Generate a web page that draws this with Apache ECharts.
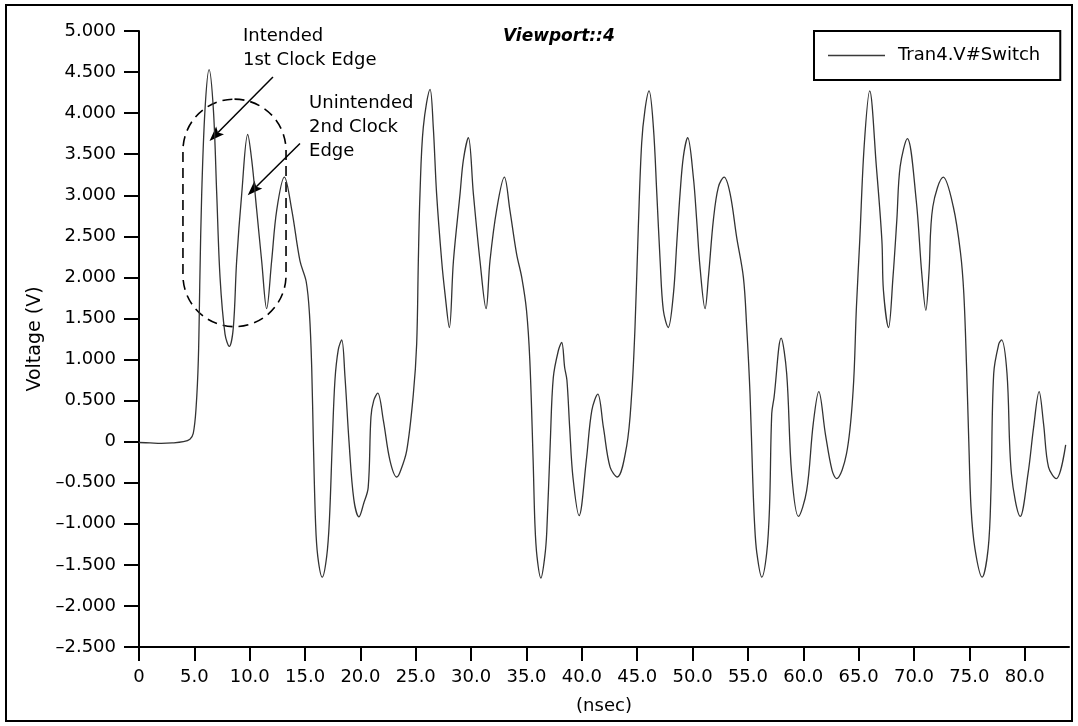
<!DOCTYPE html>
<html>
<head>
<meta charset="utf-8">
<script src="https://cdn.jsdelivr.net/npm/echarts@6/dist/echarts.min.js"></script>
<style>
html,body{margin:0;padding:0;background:#fff;}
#chart{width:1078px;height:726px;}
</style>
</head>
<body>
<div id="chart"></div>
<script>
// ---- Data ----
const seriesName = 'Tran4.V#Switch';
const chartTitle = 'Viewport::4';
const xAxisName = '(nsec)';
const yAxisName = 'Voltage (V)';
const xTicks = [0, 5, 10, 15, 20, 25, 30, 35, 40, 45, 50, 55, 60, 65, 70, 75, 80];
const yTicks = [-2.5, -2, -1.5, -1, -0.5, 0, 0.5, 1, 1.5, 2, 2.5, 3, 3.5, 4, 4.5, 5];

const timeNs = [
  0, 1, 2, 3, 4, 4.6, 4.9, 5.15, 5.36, 5.5, 5.66, 5.96, 6.33, 6.72, 7.02, 7.32, 7.77, 8.16,
  8.52, 8.82, 9.28, 9.82, 10.18, 10.63, 11.08, 11.53, 11.98, 12.44, 13.13, 13.8, 14.54, 15.1,
  15.4, 15.6, 15.75, 15.95, 16.15, 16.55, 16.95, 17.2, 17.46, 17.7, 18.0, 18.31, 18.6, 18.97,
  19.4, 19.87, 20.3, 20.7, 20.95, 21.2, 21.56, 22.07, 22.67, 23.28, 23.58, 24.18, 24.78, 25.08,
  25.23, 25.38, 25.68, 26.29,
  26.58, 26.88, 27.34, 27.64, 28.03, 28.4, 29.0, 29.3, 29.75, 30.2, 30.8, 31.35, 31.7, 32.3,
  33.0, 33.5, 34.1, 34.57, 35.0, 35.3, 35.6, 35.76, 35.95, 36.3, 36.65, 36.83, 37.15, 37.42,
  37.88, 38.18, 38.45, 38.65, 38.9, 39.2, 39.75, 40.4, 40.9, 41.44, 41.95, 42.55, 43.2, 44.05,
  44.5, 44.8, 45.1, 45.4, 45.7, 46.07,
  46.46, 46.77, 47.07, 47.36, 47.8, 48.27, 48.57, 48.87, 49.17, 49.56, 50.07, 50.37, 50.67,
  51.13, 51.43, 51.88, 52.33, 52.85, 53.39, 53.98, 54.59, 54.89, 55.19, 55.43, 55.6, 55.8,
  56.25, 56.7, 56.95, 57.15, 57.36, 58.0, 58.5, 58.95, 59.56, 60.3, 60.9, 61.4, 62.0, 62.6,
  63.0, 63.9, 64.5, 64.8, 65.1, 65.5, 66.0,
  66.6, 67.1, 67.24, 67.7, 68.1, 68.45, 68.75, 69.4, 70.2, 70.7, 71.07, 71.35, 71.7, 72.65,
  73.55, 74.2, 74.5, 74.75, 74.95, 75.15, 75.5, 76.15, 76.7, 76.95, 77.2, 77.66, 77.9, 78.4,
  78.8, 79.6, 80.3, 80.8, 81.3, 81.7, 82.15, 82.85, 83.7
];
const voltage = [
  -0.01, -0.015, -0.02, -0.015, 0.0, 0.03, 0.1, 0.4, 1.0, 2.0, 3.0, 4.04, 4.53, 4.04, 3.02, 2.0, 1.31, 1.16,
  1.39, 2.2, 3.02, 3.74, 3.43, 2.82, 2.2, 1.62, 2.2, 2.82, 3.22, 2.82, 2.2, 1.95,
  1.55, 0.9, 0.0, -1.0, -1.4, -1.65, -1.4, -0.95, 0.0, 0.75, 1.12, 1.24, 0.8, 0.0,
  -0.7, -0.915, -0.75, -0.56, 0.3, 0.5, 0.59, 0.26, -0.23, -0.43, -0.37, -0.11, 0.58, 1.19,
  2.2, 3.02, 3.83, 4.29,
  3.83, 3.02, 2.2, 1.8, 1.39, 2.2, 3.02, 3.43, 3.70, 3.02, 2.2, 1.62, 2.2, 2.82,
  3.22, 2.82, 2.29, 2.0, 1.6, 0.99, -0.23, -1.0, -1.4, -1.66, -1.4, -1.1, 0.0, 0.78,
  1.11, 1.21, 0.9, 0.75, 0.17, -0.44, -0.9, -0.23, 0.38, 0.58, 0.17, -0.31, -0.43, -0.05,
  0.58, 1.39, 2.61, 3.63, 4.04, 4.27,
  3.83, 3.02, 2.2, 1.6, 1.39, 1.8, 2.41, 3.02, 3.47, 3.70, 3.22, 2.7, 2.13,
  1.62, 2.0, 2.7, 3.1, 3.22, 3.02, 2.49, 2.0, 1.39, 0.58, -0.44, -1.0, -1.35,
  -1.65, -1.35, -0.8, 0.34, 0.54, 1.26, 0.83, -0.39, -0.91, -0.6, 0.22, 0.61, 0.09, -0.35,
  -0.45, -0.15, 0.62, 1.64, 2.45, 3.6, 4.27,
  3.35, 2.45, 1.84, 1.39, 2.0, 2.7, 3.35, 3.69, 2.94, 2.05, 1.6, 2.05, 2.86, 3.22,
  2.86, 2.3, 1.8, 0.9, 0.0, -0.8, -1.3, -1.65, -1.3, -0.6, 0.83, 1.19, 1.24, 0.83,
  -0.39, -0.91, -0.39, 0.17, 0.61, 0.22, -0.31, -0.45, -0.04
];

// annotation anchors in data space [nsec, V]
const note1Text = 'Intended\n1st Clock Edge';
const note2Text = 'Unintended\n2nd Clock\nEdge';
const note1Pos = [9.39, 5.085];
const note2Pos = [15.36, 4.265];
const arrow1 = [[12.1, 4.44], [6.37, 3.66]];
const arrow2 = [[14.54, 3.63], [9.82, 3.0]];
const regionBox = [[3.97, 4.17], [13.28, 1.40]];

// ---- Chart ----
const FONT = 'DejaVu Sans';
const chart = echarts.init(document.getElementById('chart'), null, {renderer: 'canvas'});
const fmtY = v => {
  if (Math.abs(v) < 1e-9) return '0';
  return (v < 0 ? '\u2013' : '') + Math.abs(v).toFixed(3);
};
const fmtX = v => (Math.abs(v) < 1e-9 ? '0' : v.toFixed(1));

chart.setOption({
  animation: false,
  backgroundColor: '#fff',
  title: {
    text: chartTitle,
    left: 503, top: 28, padding: 0,
    textStyle: {fontFamily: FONT, fontSize: 17, fontWeight: 'bold', fontStyle: 'italic', color: '#000'}
  },
  legend: {
    data: [{name: seriesName, icon: 'rect'}],
    left: 814, top: 31,
    padding: [14, 20, 14, 14],
    itemWidth: 57, itemHeight: 1.6,
    itemStyle: {color: '#3a3a3a'},
    borderColor: '#000', borderWidth: 2,
    textStyle: {fontFamily: FONT, fontSize: 18, color: '#000', padding: [0, 0, 0, 8], lineHeight: 21}
  },
  grid: {left: 139, right: 9, top: 31, bottom: 79, containLabel: false},
  xAxis: {
    type: 'value', min: 0, max: 84, interval: 5,
    name: xAxisName, nameLocation: 'middle', nameGap: 50,
    nameTextStyle: {fontFamily: FONT, fontSize: 18, color: '#000'},
    axisLine: {show: true, onZero: false, lineStyle: {color: '#000', width: 2}},
    axisTick: {show: true, length: 14, lineStyle: {color: '#000', width: 2}, customValues: xTicks},
    axisLabel: {fontFamily: FONT, fontSize: 18, color: '#000', margin: 21, formatter: fmtX, customValues: xTicks},
    splitLine: {show: false}
  },
  yAxis: {
    type: 'value', min: yTicks[0], max: yTicks[yTicks.length - 1], interval: 0.5,
    name: yAxisName, nameLocation: 'middle', nameGap: 89,
    nameTextStyle: {fontFamily: FONT, fontSize: 19, color: '#000'},
    axisLine: {show: true, onZero: false, lineStyle: {color: '#000', width: 2}},
    axisTick: {show: true, length: 15, lineStyle: {color: '#000', width: 2}},
    axisLabel: {fontFamily: FONT, fontSize: 18, color: '#000', margin: 23, formatter: fmtY},
    splitLine: {show: false}
  },
  series: [{
    name: seriesName,
    type: 'line',
    data: timeNs.map((t, i) => [t, voltage[i]]),
    symbol: 'none', showSymbol: false,
    smooth: 0.35,
    lineStyle: {color: '#333', width: 1.3},
    itemStyle: {color: '#333'}
  }]
});

function px(p) { return chart.convertToPixel({gridIndex: 0}, p); }
function arrowGraphics(a) {
  const s = px(a[0]), e = px(a[1]);
  const dx = e[0] - s[0], dy = e[1] - s[1];
  const L = Math.hypot(dx, dy), ux = dx / L, uy = dy / L;
  const nx = -uy, ny = ux, hl = 15, hw = 5.5;
  const bx = e[0] - ux * hl, by = e[1] - uy * hl;
  return [
    {type: 'line', shape: {x1: s[0], y1: s[1], x2: bx + ux * 3, y2: by + uy * 3},
     style: {stroke: '#000', lineWidth: 1.5}, silent: true},
    {type: 'polygon', shape: {points: [[e[0], e[1]], [bx + nx * hw, by + ny * hw], [bx + ux * 3, by + uy * 3], [bx - nx * hw, by - ny * hw]]},
     style: {fill: '#000'}, silent: true}
  ];
}
const b0 = px(regionBox[0]), b1 = px(regionBox[1]);
const n1 = px(note1Pos), n2 = px(note2Pos);
const bw = b1[0] - b0[0], bh = b1[1] - b0[1];
chart.setOption({
  graphic: [
    {type: 'rect', shape: {x: 6, y: 5, width: 1066, height: 716},
     style: {fill: 'none', stroke: '#000', lineWidth: 2}, silent: true, z: 100},
    {type: 'rect', shape: {x: b0[0], y: b0[1], width: bw, height: bh, r: bw / 2},
     style: {fill: 'none', stroke: '#000', lineWidth: 1.6, lineDash: [10, 6]}, silent: true},
    ...arrowGraphics(arrow1),
    ...arrowGraphics(arrow2),
    {type: 'text', x: n1[0], y: n1[1],
     style: {text: note1Text, font: '18px "DejaVu Sans"', fill: '#000', lineHeight: 24, verticalAlign: 'top', align: 'left'}, silent: true},
    {type: 'text', x: n2[0], y: n2[1],
     style: {text: note2Text, font: '18px "DejaVu Sans"', fill: '#000', lineHeight: 24, verticalAlign: 'top', align: 'left'}, silent: true}
  ]
});
</script>
</body>
</html>
